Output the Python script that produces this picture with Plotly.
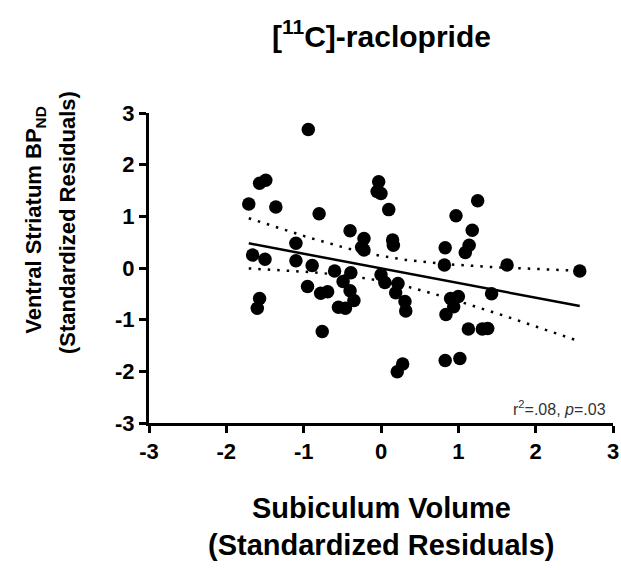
import numpy as np
import plotly.graph_objects as go

# Data (standardized residuals)
subiculum = [-0.94, -1.57, -1.49, -1.71, -1.36, -0.80, -0.03, -0.05, 0.00, 0.10,
             -0.40, -0.22, -0.25, -0.22, 0.15, 0.16, -1.10, -1.66, -1.50, -1.10,
             -0.89, -0.60, -0.39, -0.49, -0.40, -0.69, -0.78, -0.95, -0.35, -0.55,
             -0.46, 0.00, 0.05, 0.22, 0.19, 0.31, 0.32, -0.76, -1.57, -1.60,
             1.25, 0.97, 1.18, 0.83, 1.14, 1.09, 0.82, 1.63, 1.43, 1.00,
             0.90, 0.94, 0.84, 1.13, 1.31, 1.38, 2.57, 0.83, 1.02, 0.28, 0.21]
striatum = [2.68, 1.64, 1.70, 1.24, 1.18, 1.05, 1.67, 1.48, 1.44, 1.13,
            0.72, 0.57, 0.40, 0.35, 0.54, 0.44, 0.48, 0.25, 0.17, 0.14,
            0.05, -0.06, -0.09, -0.26, -0.44, -0.46, -0.49, -0.36, -0.63, -0.76,
            -0.78, -0.13, -0.28, -0.30, -0.48, -0.65, -0.83, -1.23, -0.59, -0.78,
            1.30, 1.01, 0.73, 0.39, 0.44, 0.30, 0.06, 0.06, -0.50, -0.55,
            -0.59, -0.75, -0.90, -1.18, -1.18, -1.17, -0.06, -1.79, -1.75, -1.86, -2.01]

tick_vals = [-3, -2, -1, 0, 1, 2, 3]
tick_text = ["-3", "-2", "-1", "0", "1", "2", "3"]

title_text = "[<sup>11</sup>C]-raclopride"
y_title = ["Ventral Striatum BP<sub>ND</sub>", "(Standardized Residuals)"]
x_title = ["Subiculum Volume", "(Standardized Residuals)"]
stat_text = "r<sup>2</sup>=.08, <i>p</i>=.03"

# Linear fit with 95% confidence band computed from the data
x = np.array(subiculum)
y = np.array(striatum)
n = len(x)
slope, intercept = np.polyfit(x, y, 1)
resid = y - (slope * x + intercept)
s = np.sqrt(np.sum(resid ** 2) / (n - 2))
xm = x.mean()
sxx = np.sum((x - xm) ** 2)
xf = np.linspace(x.min(), x.max(), 100)
yf = slope * xf + intercept
tcrit = 2.001
se = s * np.sqrt(1.0 / n + (xf - xm) ** 2 / sxx)
upper = yf + tcrit * se
lower = yf - tcrit * se

FONT = "Liberation Sans, Arial, Helvetica, sans-serif"

fig = go.Figure()
fig.add_trace(go.Scatter(x=x, y=y, mode="markers",
                         marker=dict(color="black", size=13.5, line=dict(width=0)),
                         showlegend=False, hoverinfo="skip"))
fig.add_trace(go.Scatter(x=xf, y=yf, mode="lines",
                         line=dict(color="black", width=2.5), showlegend=False))
for band in (upper, lower):
    fig.add_trace(go.Scatter(x=xf, y=band, mode="lines",
                             line=dict(color="black", width=2.5, dash="2.5px,7px"),
                             showlegend=False))

axis_common = dict(
    range=[-3, 3], tickvals=tick_vals, ticktext=tick_text,
    showline=True, linecolor="black", linewidth=3,
    ticks="outside", ticklen=7, tickwidth=2.5, tickcolor="black",
    showgrid=False, zeroline=False, automargin=False,
    tickfont=dict(family=FONT, size=22, color="black", weight="bold"),
)
fig.update_xaxes(**axis_common)
fig.update_yaxes(**axis_common)

annots = [
    dict(text=title_text, xref="paper", yref="paper", x=0.5, y=1.254,
         xanchor="center", yanchor="middle", showarrow=False,
         font=dict(family=FONT, size=30, color="black", weight="bold")),
    dict(text=y_title[0], xref="paper", yref="paper", x=-0.246, y=0.655,
         xanchor="center", yanchor="middle", textangle=-90, showarrow=False,
         font=dict(family=FONT, size=22, color="black", weight="bold")),
    dict(text=y_title[1], xref="paper", yref="paper", x=-0.177, y=0.648,
         xanchor="center", yanchor="middle", textangle=-90, showarrow=False,
         font=dict(family=FONT, size=22, color="black", weight="bold")),
    dict(text=x_title[0], xref="paper", yref="paper", x=0.5, y=-0.274,
         xanchor="center", yanchor="middle", showarrow=False,
         font=dict(family=FONT, size=29, color="black", weight="bold")),
    dict(text=x_title[1], xref="paper", yref="paper", x=0.5, y=-0.394,
         xanchor="center", yanchor="middle", showarrow=False,
         font=dict(family=FONT, size=29, color="black", weight="bold")),
    dict(text=stat_text, xref="paper", yref="paper", x=0.989, y=0.048,
         xanchor="right", yanchor="middle", showarrow=False,
         font=dict(family=FONT, size=16, color="#333333")),
]

fig.update_layout(
    width=621, height=572,
    margin=dict(l=149, r=8, t=113, b=149, autoexpand=False),
    paper_bgcolor="white", plot_bgcolor="white",
    annotations=annots,
    showlegend=False,
)

fig.write_html("out.html", config={"displayModeBar": False},
               post_script="document.body.style.margin='0px';")
